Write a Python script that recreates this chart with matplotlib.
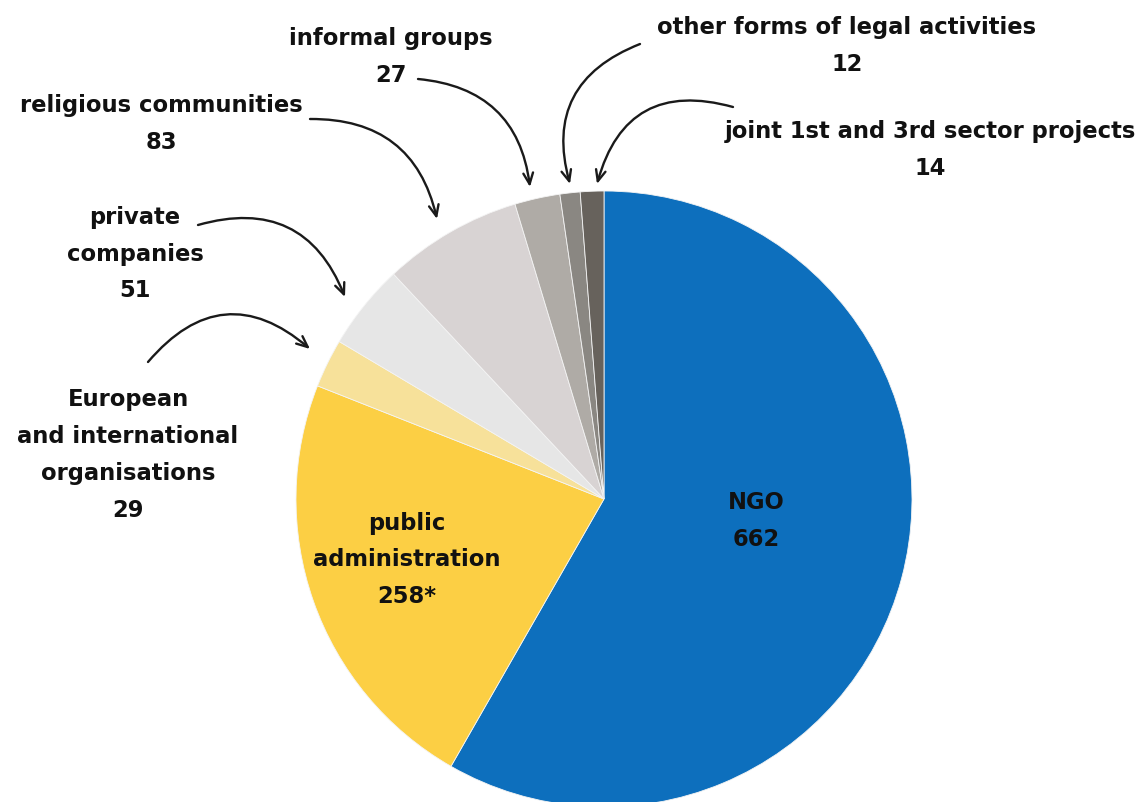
import matplotlib
matplotlib.use("Agg")
from matplotlib import pyplot as plt

# slices, clockwise from 12 o'clock
categories = ["NGO", "public administration", "European and international organisations",
              "private companies", "religious communities", "informal groups",
              "other forms of legal activities", "joint 1st and 3rd sector projects"]
values = [662, 258, 29, 51, 83, 27, 12, 14]
value_labels = ["662", "258*", "29", "51", "83", "27", "12", "14"]
colors = ["#0D6FBD", "#FCCF44", "#F7E19A", "#E6E6E6", "#D8D3D3", "#AFABA6", "#8A8782", "#67625C"]

W, H = 1141, 803

fig = plt.figure(figsize=(W / 100, H / 100), dpi=100)
ax = fig.add_axes([0, 0, 1, 1])

ax.pie(values, colors=colors, startangle=90, counterclock=False,
       center=(604, H - 500), radius=308,
       wedgeprops=dict(linewidth=0.6, edgecolor="#f4f4f4"))
ax.set_xlim(0, W)
ax.set_ylim(0, H)
ax.set_aspect("equal")
ax.axis("off")

font = dict(family="DejaVu Sans", weight="bold", fontsize=16.3, color="#111111",
            ha="center", va="center", linespacing=1.76)

# labels: (text, x, y) in pixel coords from top-left
labels = [
    ("NGO\n" + value_labels[0], 756, 521),
    ("public\nadministration\n" + value_labels[1], 407, 560),
    ("European\nand international\norganisations\n" + value_labels[2], 128, 455),
    ("private\ncompanies\n" + value_labels[3], 135, 254),
    ("religious communities\n" + value_labels[4], 161, 124),
    ("informal groups\n" + value_labels[5], 391, 57),
    ("other forms of legal activities\n" + value_labels[6], 847, 46),
    ("joint 1st and 3rd sector projects\n" + value_labels[7], 930, 150),
]
for txt, x, y in labels:
    ax.text(x, H - y, txt, **font)

# curved arrows: (start, end, curvature)
arrows = [
    ((148, 363), (310, 350), -0.5),
    ((198, 226), (345, 298), -0.45),
    ((310, 120), (437, 220), -0.4),
    ((418, 80), (530, 188), -0.4),
    ((640, 45), (570, 185), 0.45),
    ((733, 108), (597, 185), 0.5),
]
for (x0, y0), (x1, y1), rad in arrows:
    ax.annotate("", xy=(x1, H - y1), xytext=(x0, H - y0),
                arrowprops=dict(arrowstyle="->,head_length=0.8,head_width=0.35",
                                connectionstyle=f"arc3,rad={rad}",
                                color="#1a1a1a", lw=1.7,
                                shrinkA=0, shrinkB=0))

fig.savefig("out.png", dpi=100)
